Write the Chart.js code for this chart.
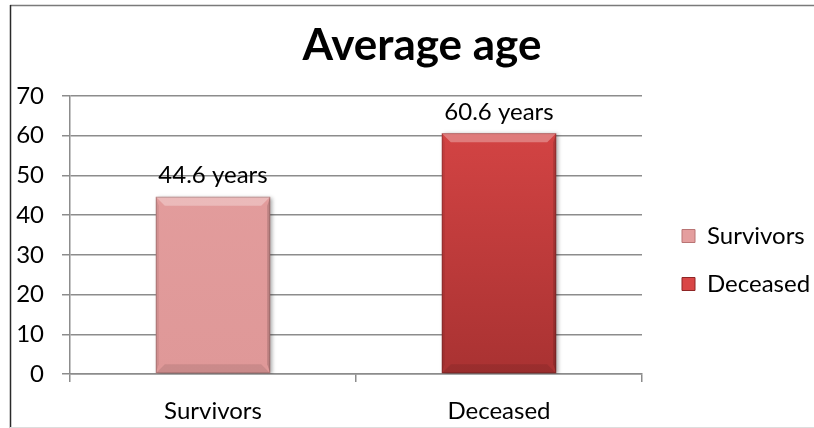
<!DOCTYPE html>
<html>
<head>
<meta charset="utf-8">
<script src="https://cdn.jsdelivr.net/npm/chart.js@4"></script>
<style>
  html, body { margin: 0; padding: 0; background: #ffffff; }
  #wrap { position: relative; width: 814px; height: 428px; }
</style>
</head>
<body>
<div id="wrap"><canvas id="chart"></canvas></div>
<script>
// Chart content
const chartTitle = 'Average age';
const categories = ['Survivors', 'Deceased'];
const averageAges = [44.6, 60.6];
const valueSuffix = ' years';
const yMin = 0;
const yMax = 70;
const yStep = 10;

// Styling
const barColors = ['#e49e9e', '#d94646'];
const barBottomColors = ['#df9898', '#a93232'];
const legendBorders = ['#b97474', '#8e2525'];
const gridColor = '#8c8c8c';
const fontFamily = 'Lato, "Liberation Sans", sans-serif';
const textSize = 24;

// One dataset per group so each appears in the legend; nulls are skipped
const datasets = categories.map((name, i) => ({
  label: name,
  data: categories.map((_, j) => (j === i ? averageAges[i] : null)),
  backgroundColor: (ctx) => {
    const area = ctx.chart.chartArea;
    if (!area) return barColors[i];
    const g = ctx.chart.ctx.createLinearGradient(0, area.top, 0, area.bottom);
    g.addColorStop(0, barColors[i]);
    g.addColorStop(1, barBottomColors[i]);
    return g;
  },
  borderWidth: 0,
  skipNull: true,
  categoryPercentage: 0.4,
  barPercentage: 1
}));

// Frame around the chart: dark left edge, grey top edge, faint bottom edge
const framePlugin = {
  id: 'frame',
  beforeDraw(chart) {
    const c = chart.ctx;
    c.save();
    c.fillStyle = '#ffffff';
    c.fillRect(0, 0, chart.width, chart.height);
    c.lineWidth = 1.5;
    c.strokeStyle = '#7a7a7a';
    c.beginPath(); c.moveTo(10, 5.5); c.lineTo(chart.width, 5.5); c.stroke();
    c.strokeStyle = '#2a2a2a';
    c.beginPath(); c.moveTo(10.5, 5); c.lineTo(10.5, chart.height); c.stroke();
    c.strokeStyle = '#dddddd';
    c.lineWidth = 1;
    c.beginPath(); c.moveTo(10, chart.height - 0.5); c.lineTo(chart.width, chart.height - 0.5); c.stroke();
    c.restore();
  }
};

// Legend sits in a fixed-width column to the right of the plot,
// with its entries set in from the plot edge; the title is centred
// a little right of the canvas middle.
const legendWidth = 172;
const legendOffset = { x: 16, y: 47 };
const titleOffsetX = 7;
const placementPlugin = {
  id: 'placement',
  beforeLayout(chart) {
    const lg = chart.legend;
    if (lg && !lg._fixedWidth) {
      const fit = lg.fit.bind(lg);
      lg.fit = function () { fit(); this.width = legendWidth; };
      lg._fixedWidth = true;
    }
  },
  afterLayout(chart) {
    const lg = chart.legend;
    if (lg) {
      lg.left += legendOffset.x; lg.right += legendOffset.x;
      lg.top += legendOffset.y; lg.bottom += legendOffset.y;
    }
    const tb = chart.titleBlock;
    if (tb) { tb.left += titleOffsetX; tb.right += titleOffsetX; }
  }
};

// Soft drop shadow under the bars
const shadowPlugin = {
  id: 'barShadow',
  beforeDatasetsDraw(chart) {
    const c = chart.ctx;
    c.save();
    c.shadowColor = 'rgba(0,0,0,0.35)';
    c.shadowBlur = 4;
    c.shadowOffsetX = 2;
    c.shadowOffsetY = 1;
  },
  afterDatasetsDraw(chart) {
    chart.ctx.restore();
  }
};

// Bevelled edges on each bar and the value label above it
const bevelPlugin = {
  id: 'bevel',
  afterDatasetsDraw(chart) {
    const c = chart.ctx;
    chart.data.datasets.forEach((ds, di) => {
      const meta = chart.getDatasetMeta(di);
      meta.data.forEach((bar, idx) => {
        const v = ds.data[idx];
        if (v === null || v === undefined) return;
        const p = bar.getProps(['x', 'y', 'base', 'width'], true);
        const x0 = p.x - p.width / 2, x1 = p.x + p.width / 2;
        const y0 = p.y, y1 = p.base;
        const b = 9;
        c.save();
        // top facet
        c.fillStyle = 'rgba(255,255,255,0.3)';
        c.beginPath();
        c.moveTo(x0, y0); c.lineTo(x1, y0); c.lineTo(x1 - b, y0 + b); c.lineTo(x0 + b, y0 + b);
        c.closePath(); c.fill();
        // bottom facet
        c.fillStyle = 'rgba(0,0,0,0.09)';
        c.beginPath();
        c.moveTo(x0, y1); c.lineTo(x1, y1); c.lineTo(x1 - b, y1 - b); c.lineTo(x0 + b, y1 - b);
        c.closePath(); c.fill();
        // side facets
        c.fillStyle = 'rgba(0,0,0,0.07)';
        c.beginPath();
        c.moveTo(x0, y0); c.lineTo(x0 + 3, y0 + b); c.lineTo(x0 + 3, y1 - b); c.lineTo(x0, y1);
        c.closePath(); c.fill();
        c.fillStyle = 'rgba(0,0,0,0.16)';
        c.beginPath();
        c.moveTo(x1, y0); c.lineTo(x1 - 3, y0 + b); c.lineTo(x1 - 3, y1 - b); c.lineTo(x1, y1);
        c.closePath(); c.fill();
        // outline
        c.strokeStyle = 'rgba(0,0,0,0.18)';
        c.lineWidth = 1;
        c.strokeRect(x0 + 0.5, y0 + 0.5, p.width - 1, y1 - y0 - 1);
        // value label
        c.fillStyle = '#000000';
        c.font = textSize + 'px ' + fontFamily;
        c.textAlign = 'center';
        c.textBaseline = 'middle';
        c.fillText(v + valueSuffix, p.x, y0 - 21);
        c.restore();
      });
    });
  }
};

new Chart(document.getElementById('chart'), {
  type: 'bar',
  data: { labels: categories, datasets },
  options: {
    responsive: true,
    maintainAspectRatio: false,
    animation: false,
    devicePixelRatio: 1,
    layout: { padding: { left: 16, right: 0, top: 0, bottom: 2 } },
    plugins: {
      title: {
        display: true,
        text: chartTitle,
        color: '#000000',
        font: { family: fontFamily, size: 44, weight: 'bold' },
        padding: { top: 19, bottom: 24 }
      },
      legend: {
        position: 'right',
        align: 'center',
        labels: {
          color: '#000000',
          font: { family: fontFamily, size: textSize },
          boxWidth: 13,
          boxHeight: 13,
          padding: 24,
          generateLabels(chart) {
            return chart.data.datasets.map((ds, i) => ({
              text: ds.label,
              fillStyle: barColors[i],
              strokeStyle: legendBorders[i],
              lineWidth: 1,
              datasetIndex: i,
              fontColor: '#000000'
            }));
          }
        }
      },
      tooltip: { enabled: false }
    },
    scales: {
      x: {
        offset: true,
        afterFit(scale) { scale.height = 52; },
        grid: {
          offset: true,
          drawOnChartArea: false,
          drawTicks: true,
          tickLength: 8,
          color: gridColor,
          lineWidth: 1.5
        },
        border: { color: gridColor, width: 1.5 },
        ticks: {
          color: '#000000',
          font: { family: fontFamily, size: textSize },
          padding: 15
        }
      },
      y: {
        min: yMin,
        max: yMax,
        afterFit(scale) { scale.width = 54; },
        grid: {
          color: gridColor,
          lineWidth: 1.5,
          tickLength: 8
        },
        border: { color: gridColor, width: 1.5 },
        ticks: {
          stepSize: yStep,
          color: '#000000',
          font: { family: fontFamily, size: textSize },
          padding: 18
        }
      }
    }
  },
  plugins: [framePlugin, placementPlugin, shadowPlugin, bevelPlugin]
});
</script>
</body>
</html>
